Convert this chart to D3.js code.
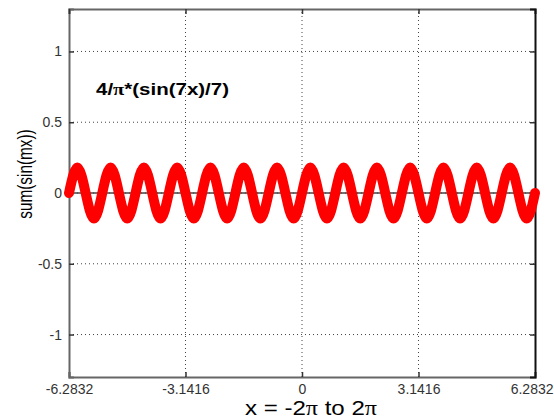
<!DOCTYPE html>
<html>
<head>
<meta charset="utf-8">
<script src="https://cdn.jsdelivr.net/npm/d3@7"></script>
<style>
  body { margin: 0; background: #fff; }
  svg { display: block; }
</style>
</head>
<body>
<div id="chart"></div>
<script>
// x positions of the curve's zero crossings and peaks
const xValues = [-6.2832, -6.0588, -5.8344, -5.6100, -5.3856, -5.1612, -4.9368, -4.7124,
                 -4.4880, -4.2636, -4.0392, -3.8148, -3.5904, -3.3660, -3.1416, -2.9172,
                 -2.6928, -2.4684, -2.2440, -2.0196, -1.7952, -1.5708, -1.3464, -1.1220,
                 -0.8976, -0.6732, -0.4488, -0.2244, 0,
                 0.2244, 0.4488, 0.6732, 0.8976, 1.1220, 1.3464, 1.5708, 1.7952,
                 2.0196, 2.2440, 2.4684, 2.6928, 2.9172, 3.1416, 3.3660, 3.5904,
                 3.8148, 4.0392, 4.2636, 4.4880, 4.7124, 4.9368, 5.1612, 5.3856,
                 5.6100, 5.8344, 6.0588, 6.2832];
const yValues = [0, 0.18, 0, -0.18, 0, 0.18, 0, -0.18, 0, 0.18, 0, -0.18, 0, 0.18, 0,
                 -0.18, 0, 0.18, 0, -0.18, 0, 0.18, 0, -0.18, 0, 0.18, 0, -0.18, 0,
                 0.18, 0, -0.18, 0, 0.18, 0, -0.18, 0, 0.18, 0, -0.18, 0, 0.18, 0,
                 -0.18, 0, 0.18, 0, -0.18, 0, 0.18, 0, -0.18, 0, 0.18, 0, -0.18, 0];
const zeroLineX = [-6.2832, 6.2832];
const zeroLineY = [0, 0];

const xTicks = [-6.2832, -3.1416, 0, 3.1416, 6.2832];
const xTickLabels = ["-6.2832", "-3.1416", "0", "3.1416", "6.2832"];
const yTicks = [-1, -0.5, 0, 0.5, 1];
const yTickLabels = ["-1", "-0.5", "0", "0.5", "1"];
const xDomain = [-6.2832, 6.2832];
const yDomain = [-1.3, 1.3];

const w = 554, h = 420;
const margin = {left: 69, right: 19, top: 9, bottom: 43};

const svg = d3.select("#chart").append("svg")
    .attr("width", w)
    .attr("height", h);

const x = d3.scaleLinear().domain(xDomain).range([margin.left, w - margin.right]);
const y = d3.scaleLinear().domain(yDomain).range([h - margin.bottom, margin.top]);

// dotted grid
svg.append("g").selectAll("line.vgrid")
    .data(xTicks.slice(1, -1))
    .join("line")
    .attr("x1", d => x(d)).attr("x2", d => x(d))
    .attr("y1", y.range()[0]).attr("y2", y.range()[1])
    .attr("stroke", "#444").attr("stroke-width", 1)
    .attr("stroke-dasharray", "1,3");

svg.append("g").selectAll("line.hgrid")
    .data(yTicks)
    .join("line")
    .attr("x1", x.range()[0]).attr("x2", x.range()[1])
    .attr("y1", d => y(d)).attr("y2", d => y(d))
    .attr("stroke", "#444").attr("stroke-width", 1)
    .attr("stroke-dasharray", "1,3");

// axes
const fmtX = (d, i) => xTickLabels[i];
const fmtY = (d, i) => yTickLabels[i];

const xAxisG = svg.append("g")
    .attr("transform", "translate(0," + y.range()[0] + ")")
    .call(d3.axisBottom(x).tickValues(xTicks).tickFormat(fmtX).tickSize(-5).tickPadding(7));

svg.append("g")
    .attr("transform", "translate(" + x.range()[0] + ",0)")
    .call(d3.axisLeft(y).tickValues(yTicks).tickFormat(fmtY).tickSize(-5).tickPadding(7));

svg.append("g")
    .attr("class", "top")
    .attr("transform", "translate(0," + y.range()[1] + ")")
    .call(d3.axisTop(x).tickValues(xTicks).tickFormat("").tickSize(-5));

svg.append("g")
    .attr("class", "right")
    .attr("transform", "translate(" + x.range()[1] + ",0)")
    .call(d3.axisRight(y).tickValues(yTicks).tickFormat("").tickSize(-5));

svg.selectAll(".domain").attr("stroke", "#666").attr("stroke-width", 2);
svg.selectAll(".tick line").attr("stroke", "#333").attr("stroke-width", 1.5);
svg.selectAll(".right .domain").attr("stroke", "#111");
svg.selectAll(".tick text")
    .attr("font-family", "Liberation Sans, Arial, sans-serif")
    .attr("font-size", 14)
    .attr("fill", "#333");

// last x label sits flush against the right edge of the figure
xAxisG.selectAll(".tick text")
    .filter((d, i) => i === xTicks.length - 1)
    .attr("text-anchor", "end")
    .attr("x", 18);

// zero line
svg.append("path")
    .datum(zeroLineX.map((d, i) => [d, zeroLineY[i]]))
    .attr("fill", "none")
    .attr("stroke", "#444")
    .attr("stroke-width", 1.5)
    .attr("d", d3.line().x(d => x(d[0])).y(d => y(d[1])));

// red curve
const pts = xValues.map((d, i) => [d, yValues[i]]);
svg.append("path")
    .datum(pts)
    .attr("fill", "none")
    .attr("stroke", "#ff0000")
    .attr("stroke-width", 10)
    .attr("stroke-linejoin", "round")
    .attr("stroke-linecap", "round")
    .attr("d", d3.line().curve(d3.curveNatural).x(d => x(d[0])).y(d => y(d[1])));

// title inside the plot
const title = svg.append("text")
    .attr("x", 96).attr("y", 95)
    .attr("font-family", "Liberation Sans, Arial, sans-serif")
    .attr("font-weight", "bold")
    .attr("font-size", 17)
    .attr("textLength", 133)
    .attr("lengthAdjust", "spacingAndGlyphs")
    .attr("fill", "#000");
title.append("tspan").text("4/");
title.append("tspan").attr("font-family", "Liberation Serif, serif").text("\u03c0");
title.append("tspan").text("*(sin(7x)/7)");

// x label
const xl = svg.append("text")
    .attr("x", 245).attr("y", 415)
    .attr("font-family", "Liberation Sans, Arial, sans-serif")
    .attr("font-size", 20)
    .attr("textLength", 132)
    .attr("lengthAdjust", "spacingAndGlyphs")
    .attr("fill", "#000");
xl.append("tspan").text("x = -2");
xl.append("tspan").attr("font-family", "Liberation Serif, serif").text("\u03c0");
xl.append("tspan").text(" to 2");
xl.append("tspan").attr("font-family", "Liberation Serif, serif").text("\u03c0");

// y label
svg.append("text")
    .attr("transform", "translate(32,174) rotate(-90) scale(0.73,1)")
    .attr("text-anchor", "middle")
    .attr("font-family", "Liberation Sans, Arial, sans-serif")
    .attr("font-size", 21)
    .attr("fill", "#000")
    .text("sum(sin(mx))");
</script>
</body>
</html>
